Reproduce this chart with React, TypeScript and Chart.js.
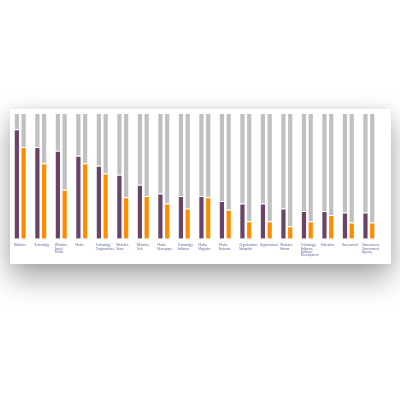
import React, { useEffect, useRef } from "react";
import { Chart, registerables } from "chart.js";

Chart.register(...registerables);

const categories: (string | string[])[] = [
  "Websites",
  "Technology",
  ["Websites,", "Social", "Media"],
  "Media",
  ["Technology,", "Conglomerate"],
  ["Websites,", "News"],
  ["Websites,", "Tech"],
  ["Media,", "Newspaper"],
  ["Technology,", "Software"],
  ["Media,", "Magazine"],
  ["Media,", "Podcasts"],
  ["Organizations,", "Nonprofit"],
  "Organizations",
  ["Websites,", "Humor"],
  ["Technology,", "Software,", "Software", "Development"],
  "Education",
  "Government",
  ["Government,", "Government", "Agency"],
];

const purpleValues = [87, 73, 70, 66, 58, 51, 43, 36, 34, 34, 30, 28, 28, 24, 22, 22, 21, 21];
const orangeValues = [73, 60, 39, 60, 52, 33, 34, 28, 24, 33, 23, 14, 14, 10, 14, 19, 13, 13];
const fullScale = 100;

export default function App() {
  const ref = useRef<HTMLCanvasElement>(null);
  useEffect(() => {
    if (!ref.current) return;
    const border = "rgba(255,255,255,0.55)";
    const chart = new Chart(ref.current, {
      type: "bar",
      data: {
        labels: categories,
        datasets: [
          { data: purpleValues, backgroundColor: "#6a4468", borderColor: border, borderWidth: 1, stack: "a" },
          { data: purpleValues.map((v) => fullScale - v), backgroundColor: "#c0c0c0", borderColor: border, borderWidth: 1, stack: "a" },
          { data: orangeValues, backgroundColor: "#ff8c00", borderColor: border, borderWidth: 1, stack: "b" },
          { data: orangeValues.map((v) => fullScale - v), backgroundColor: "#c0c0c0", borderColor: border, borderWidth: 1, stack: "b" },
        ],
      },
      options: {
        animation: false,
        responsive: true,
        maintainAspectRatio: false,
        categoryPercentage: 0.66,
        barPercentage: 0.92,
        layout: { padding: { top: 4, bottom: 2, left: 0, right: 0 } },
        plugins: { legend: { display: false }, tooltip: { enabled: false } },
        scales: {
          x: {
            stacked: true,
            grid: { display: false, drawTicks: false },
            border: { display: false },
            ticks: {
              autoSkip: false,
              maxRotation: 0,
              minRotation: 0,
              align: "start",
              labelOffset: -6.6,
              padding: 5,
              color: "#5a6a9a",
              font: { family: "Lato", size: 3, lineHeight: 1.1 },
            },
          },
          y: {
            stacked: true,
            display: false,
            min: 0,
            max: fullScale,
          },
        },
      },
    });
    return () => chart.destroy();
  }, []);
  return (
    <div
      style={{
        position: "absolute",
        left: 10,
        top: 109,
        width: 381,
        height: 155,
        background: "#fff",
        boxShadow: "0 14px 28px rgba(0,0,0,0.35), 0 0 10px rgba(0,0,0,0.08)",
      }}
    >
      <canvas ref={ref} />
    </div>
  );
}
